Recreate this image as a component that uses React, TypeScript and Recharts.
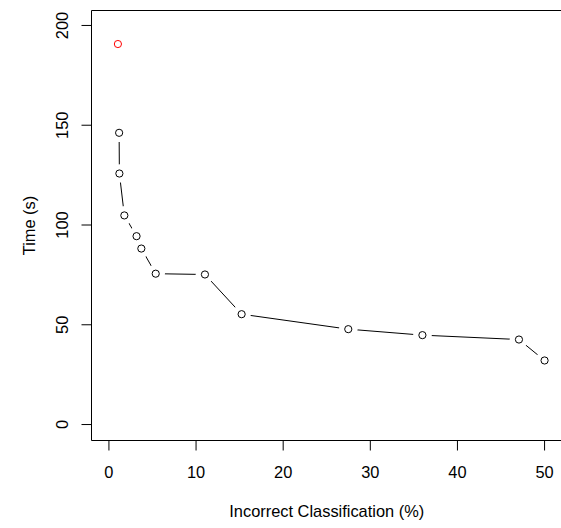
import React from "react";
import {
  ComposedChart,
  Line,
  Scatter,
  XAxis,
  YAxis,
  ReferenceArea,
  Label,
} from "recharts";

// Main series: incorrect classification (%) vs time (s)
const errorPct = [1.17, 1.2, 1.77, 3.17, 3.72, 5.37, 11.02, 15.23, 27.47, 35.98, 47.06, 50.0];
const timeSec = [146.2, 125.8, 104.8, 94.4, 88.2, 75.6, 75.2, 55.3, 47.8, 44.8, 42.6, 32.1];

// Highlighted (red) separate point
const redErrorPct = [1.03];
const redTimeSec = [190.7];

const xTicks = [0, 10, 20, 30, 40, 50];
const yTicks = [0, 50, 100, 150, 200];

const mainData = errorPct.map((x, i) => ({ x, y: timeSec[i] }));
const redData = redErrorPct.map((x, i) => ({ x, y: redTimeSec[i] }));

const FONT = "'Liberation Sans', Arial, Helvetica, sans-serif";
const FS = 16.4;

const XTick = (props: any) => {
  const { x, y, payload } = props;
  return (
    <text x={x} y={y + 25} textAnchor="middle" fontFamily={FONT} fontSize={FS} fill="#000">
      {payload.value}
    </text>
  );
};

const YTick = (props: any) => {
  const { x, y, payload } = props;
  const bx = x - 11;
  return (
    <text
      x={bx}
      y={y}
      textAnchor="middle"
      fontFamily={FONT}
      fontSize={FS}
      fill="#000"
      transform={`rotate(-90, ${bx}, ${y})`}
    >
      {payload.value}
    </text>
  );
};

const Halo = (props: any) => {
  const { cx, cy } = props;
  return <circle cx={cx} cy={cy} r={9.3} fill="#fff" stroke="none" />;
};

const Ring = (color: string) => (props: any) => {
  const { cx, cy } = props;
  return <circle cx={cx} cy={cy} r={3.6} fill="none" stroke={color} strokeWidth={1} />;
};

const XLabel = (props: any) => {
  const vb = props.viewBox || {};
  const cx = vb.x + vb.width / 2;
  return (
    <text x={cx} y={vb.y + 76} textAnchor="middle" fontFamily={FONT} fontSize={FS} fill="#000">
      Incorrect Classification (%)
    </text>
  );
};

const YLabel = (props: any) => {
  const vb = props.viewBox || {};
  const cy = vb.y + vb.height / 2;
  const x = 35;
  return (
    <text
      x={x}
      y={cy}
      textAnchor="middle"
      fontFamily={FONT}
      fontSize={FS}
      fill="#000"
      transform={`rotate(-90, ${x}, ${cy})`}
    >
      Time (s)
    </text>
  );
};

export default function App() {
  return (
    <div style={{ position: "absolute", left: 0, top: 0, width: 561, height: 528, background: "#fff" }}>
      <ComposedChart
        width={561}
        height={528}
        margin={{ top: 10.5, right: -1, bottom: 0, left: 0 }}
        style={{ background: "#fff" }}
      >
        <XAxis
          type="number"
          dataKey="x"
          domain={[-2, 52]}
          ticks={xTicks}
          allowDataOverflow
          height={87.5}
          tickSize={10}
          tickLine={{ stroke: "#000", strokeWidth: 1 }}
          axisLine={false}
          tick={<XTick />}
          interval={0}
        >
          <Label content={<XLabel />} />
        </XAxis>
        <YAxis
          type="number"
          dataKey="y"
          domain={[-8, 207.5]}
          ticks={yTicks}
          allowDataOverflow
          width={91.5}
          tickSize={10}
          tickLine={{ stroke: "#000", strokeWidth: 1 }}
          axisLine={false}
          tick={<YTick />}
          interval={0}
        >
          <Label content={<YLabel />} />
        </YAxis>
        <ReferenceArea
          x1={-2}
          x2={52}
          y1={-8}
          y2={207.5}
          fill="none"
          fillOpacity={0}
          stroke="#000"
          strokeWidth={1}
          ifOverflow="visible"
        />
        <Line
          data={mainData}
          dataKey="y"
          type="linear"
          stroke="#000"
          strokeWidth={1}
          dot={false}
          activeDot={false}
          isAnimationActive={false}
        />
        <Scatter data={mainData} dataKey="y" shape={<Halo />} isAnimationActive={false} />
        <Scatter data={mainData} dataKey="y" shape={Ring("#000")} isAnimationActive={false} />
        <Scatter data={redData} dataKey="y" shape={Ring("#ff0000")} isAnimationActive={false} />
      </ComposedChart>
    </div>
  );
}
